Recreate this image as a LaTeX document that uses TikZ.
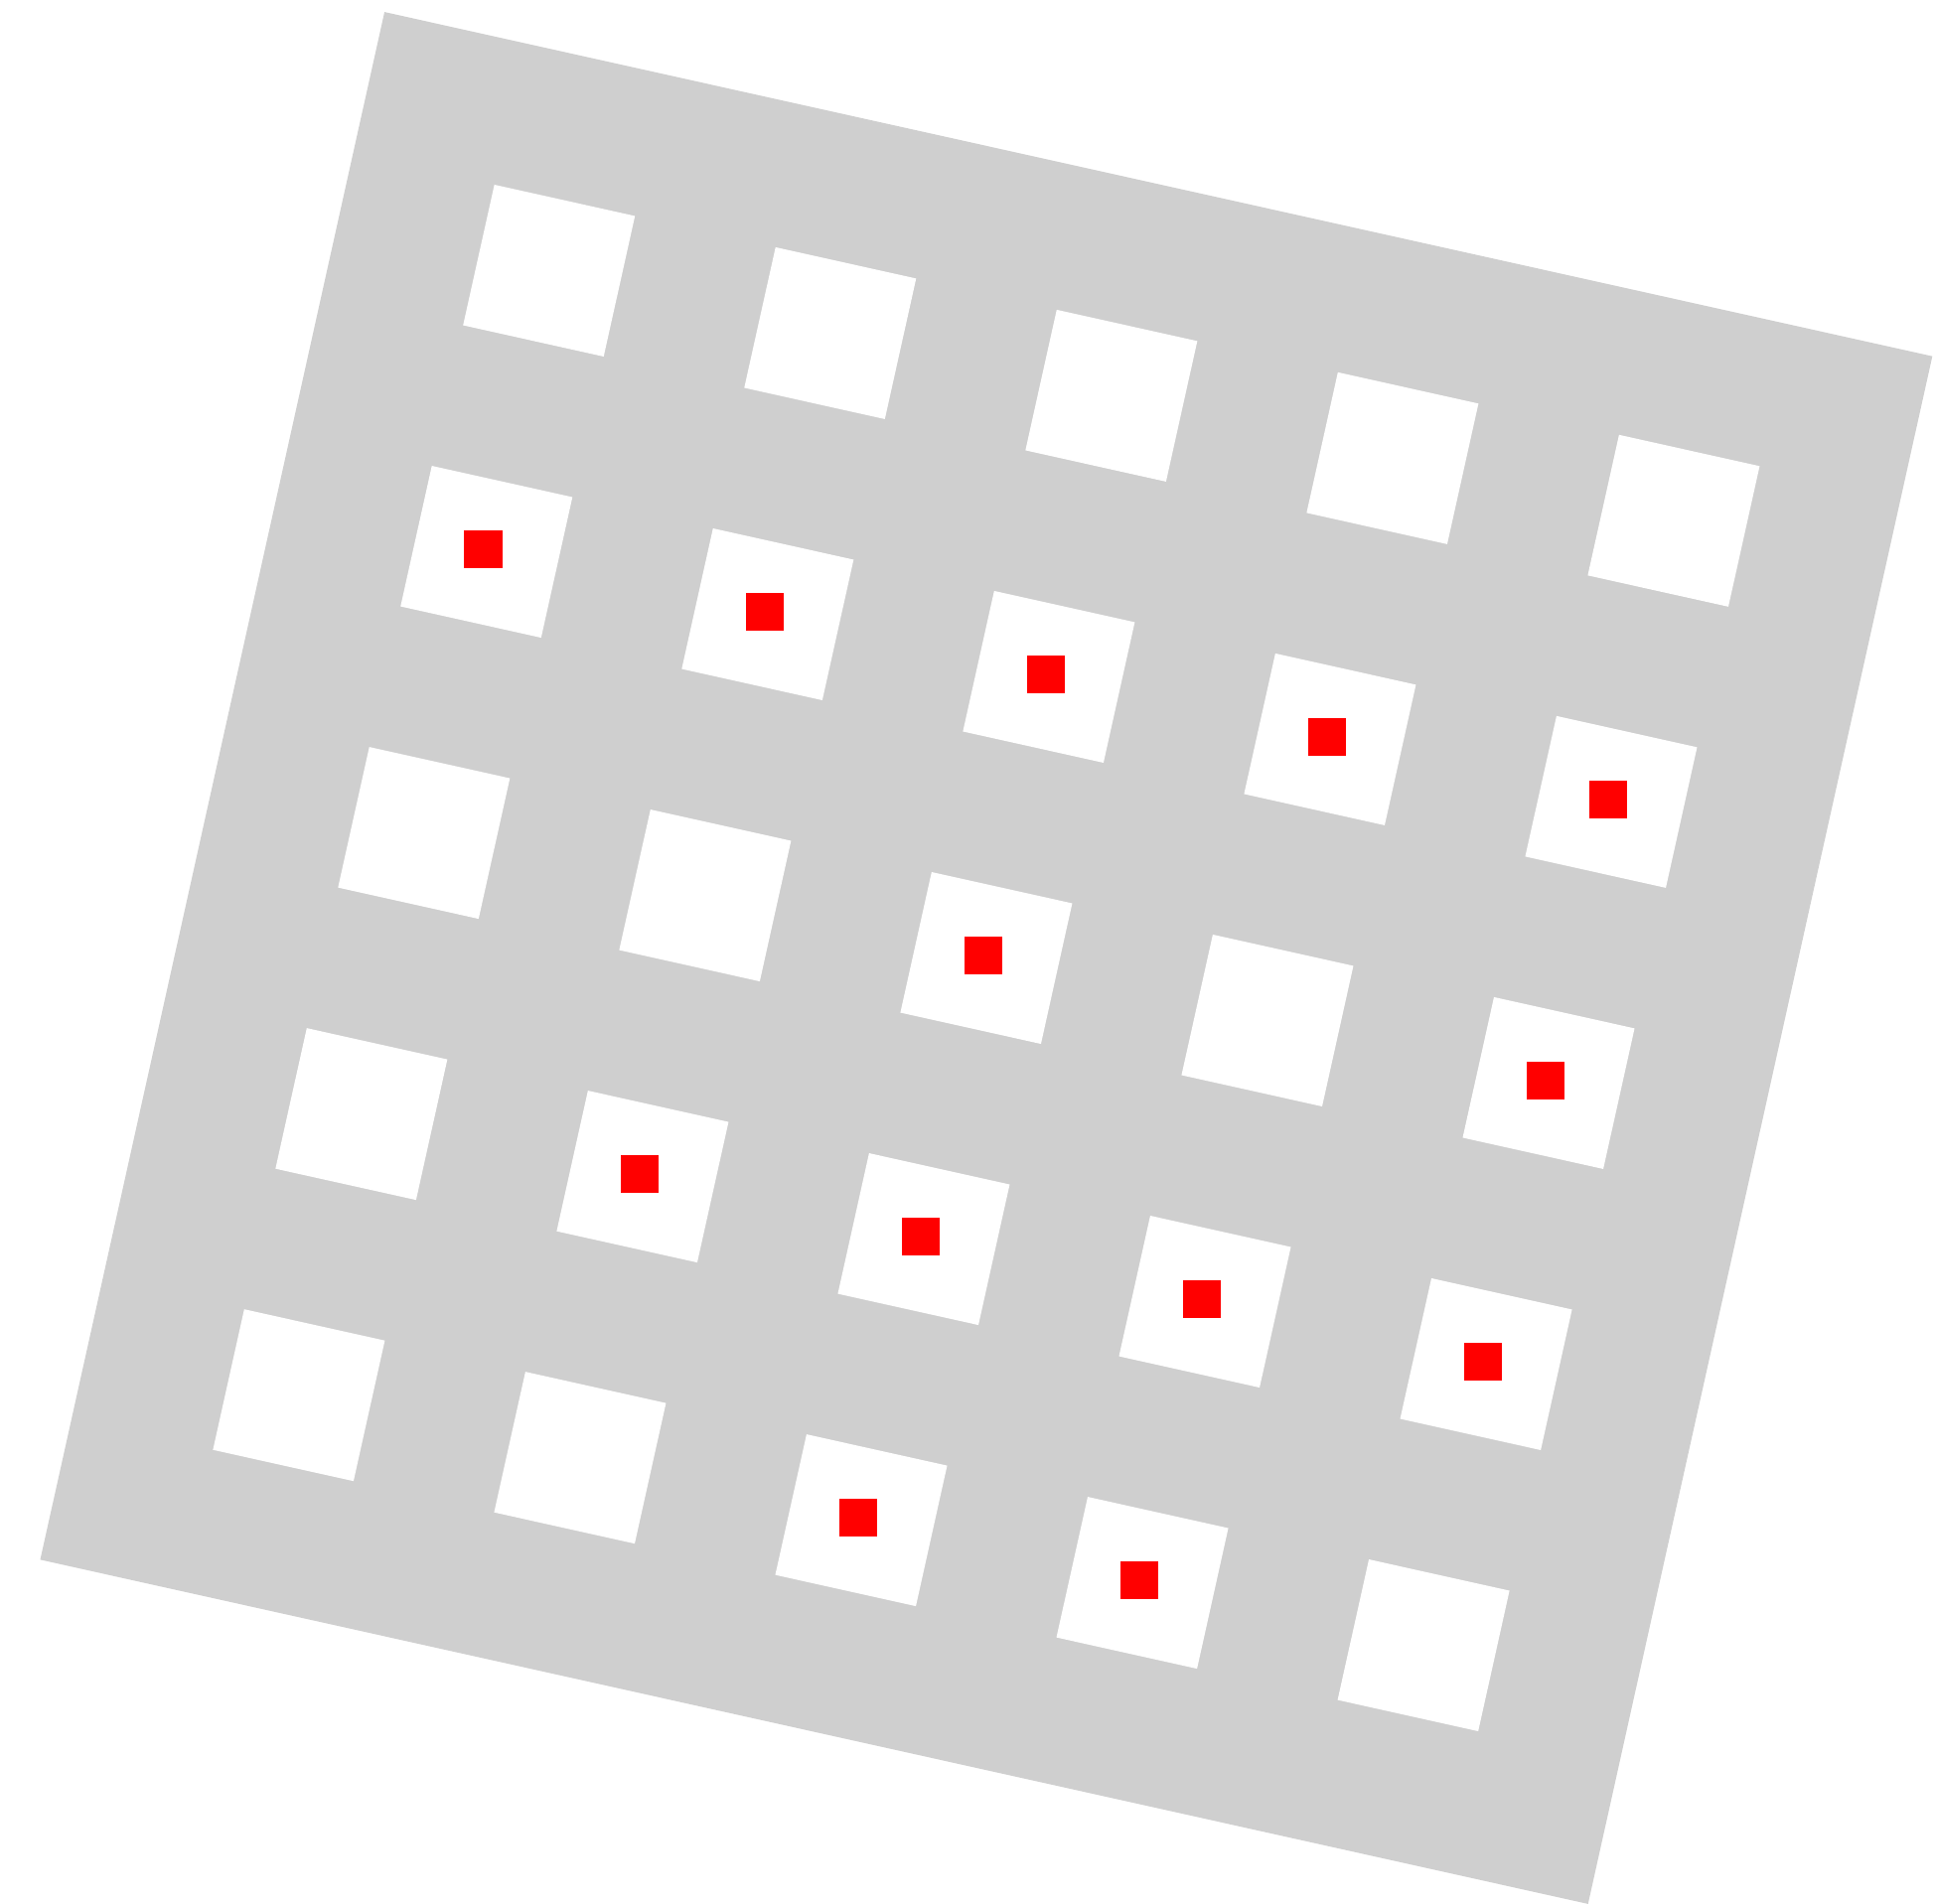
\documentclass[tikz,border=0pt]{standalone}
\definecolor{plate}{RGB}{207,207,207}
\definecolor{mark}{RGB}{255,0,0}
\tikzset{
  platebox/.style={fill=plate},
  hole/.style={fill=white},
  dot/.style={fill=mark}
}
\begin{document}
\begin{tikzpicture}[x=0.5pt,y=-0.5pt]
\useasboundingbox (0,0) rectangle (1947,1916);
\begin{scope}[shift={(992.9,964.5)},rotate=-12.54]
  \fill[platebox] (-798.2,-798.2) rectangle (798.2,798.2);
  \foreach \r in {1,...,5}{
    \foreach \c in {1,...,5}{
      \coordinate (c-\r-\c) at ({(\c-3)*290},{(\r-3)*290});
      \fill[hole] ([shift={(-72.5,-72.5)}]c-\r-\c) rectangle +(145,145);
    }
  }
\end{scope}
\foreach \r/\c in {2/1,2/2,2/3,2/4,2/5,3/3,3/5,4/2,4/3,4/4,4/5,5/3,5/4}{
  \fill[dot] ([shift={(-22.25,-21.75)}]c-\r-\c) rectangle +(38.5,38.5);
}
\end{tikzpicture}
\end{document}
